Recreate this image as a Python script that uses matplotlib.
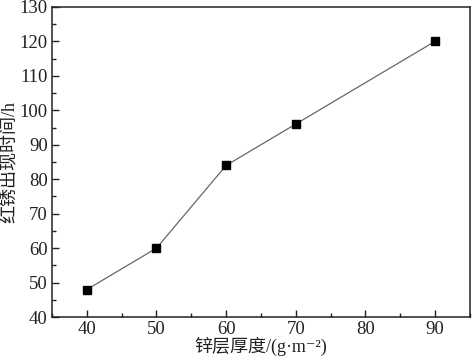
import matplotlib
matplotlib.use("Agg")
import matplotlib.pyplot as plt
from matplotlib.ticker import MultipleLocator

plt.rcParams["font.family"] = ["Liberation Serif", "Noto Sans CJK SC", "DejaVu Serif"]

thickness = [40, 50, 60, 70, 90]
rust_hours = [48, 60, 84, 96, 120]

fig = plt.figure(figsize=(4.77, 3.62), dpi=100)
ax = fig.add_axes([0.109, 0.124, 0.876, 0.857])

ax.plot(thickness, rust_hours, color="#666666", lw=0.9,
        marker="s", ms=6, mfc="black", mec="black")

ax.set_xlim(35, 95)
ax.set_ylim(40, 130)
ax.set_xticks([40, 50, 60, 70, 80, 90])
ax.xaxis.set_minor_locator(MultipleLocator(5))
ax.yaxis.set_major_locator(MultipleLocator(10))
ax.yaxis.set_minor_locator(MultipleLocator(5))
ax.tick_params(which="both", direction="in", top=False, right=False,
               labelsize=13.5, colors="#222222", pad=3)
ax.tick_params(which="major", length=5, width=1)
ax.tick_params(which="minor", length=3, width=1)
for s in ax.spines.values():
    s.set_linewidth(1.1)
    s.set_color("#222222")

ax.set_xlabel("锌层厚度/(g·m⁻²)", fontsize=13, labelpad=-1, color="#222222")
ax.set_ylabel("红锈出现时间/h", fontsize=13, labelpad=1, color="#222222")

fig.savefig("out.png", dpi=100)
